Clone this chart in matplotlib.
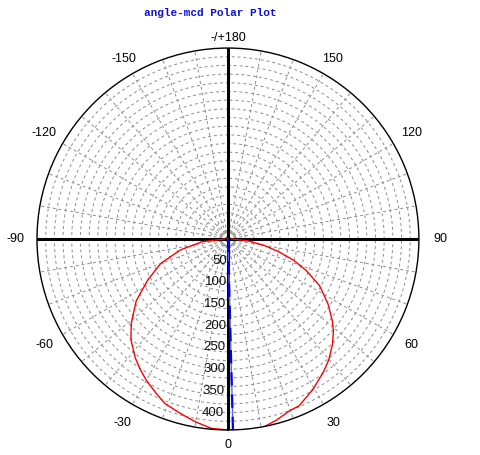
import matplotlib
matplotlib.use('Agg')
import matplotlib.pyplot as plt
import numpy as np

# red curve (angle in degrees, 0 = bottom, positive toward the right)
red_deg = [-90, -84, -77, -70, -63, -56, -49, -44, -38, -34, -30, -25, -21, -15, -10, -5, 0, 5, 10, 15, 20, 23, 27, 30, 36, 40, 45, 49, 52, 57, 63, 68, 72, 76, 80, 85, 90]
red_r = [8, 60, 113, 165, 207, 255, 295, 322, 347, 362, 376, 392, 406, 417, 428, 438, 440, 441, 443, 432, 420, 418, 405, 396, 376, 362, 341, 322, 305, 275, 237, 195, 160, 120, 85, 45, 8]

# blue line
blue_deg = [0.2, 1.5]
blue_r = [0, 440]

rmax = 440
ring_step = 20
spoke_step = 10
ang_labels = [0, 30, 60, 90, 120, 150, 180, -150, -120, -90, -60, -30]
ang_text = ['0', '30', '60', '90', '120', '150', '-/+180', '-150', '-120', '-90', '-60', '-30']
rad_labels = [50, 100, 150, 200, 250, 300, 350, 400]

fig = plt.figure(figsize=(4.81, 4.55), dpi=100)
ax = fig.add_axes([0.0769, 0.0549, 0.794, 0.8396], projection='polar')
ax.set_theta_zero_location('S')
ax.set_theta_direction(1)
ax.set_ylim(0, rmax)
ax.grid(False)
ax.set_xticks([])
ax.set_yticks([])
ax.spines['polar'].set_linewidth(1.0)
ax.spines['polar'].set_color('black')

# dashed grid
tt = np.linspace(0, 2 * np.pi, 400)
for r in range(ring_step, rmax, ring_step):
    ax.plot(tt, np.full_like(tt, r), color='#8c8c8c', lw=0.7, ls=(0, (3, 3)))
for a in range(0, 360, spoke_step):
    ax.plot([np.radians(a), np.radians(a)], [0, rmax], color='#8c8c8c', lw=0.7, ls=(0, (3, 3)))

# black axes through centre
for a in [0, 90, 180, 270]:
    ax.plot([np.radians(a), np.radians(a)], [0, rmax], color='black', lw=2.2)

ax.plot(np.radians(red_deg), red_r, color='red', lw=1.0)
ax.plot(np.radians(blue_deg), blue_r, color='#6060ff', lw=1.0)
ax.plot(np.radians(blue_deg), blue_r, color='blue', lw=1.6, ls=(0, (6, 4)))

for a, s in zip(ang_labels, ang_text):
    if a == 180:
        dist = 1.055
    elif a == 0:
        dist = 1.08
    elif abs(a) == 150:
        dist = 1.09
    else:
        dist = 1.11
    ax.text(np.radians(a), rmax * dist, s, ha='center', va='center', fontsize=9,
            family='Liberation Sans', clip_on=False)

for r in rad_labels:
    ax.text(np.radians(-1.2), r, str(r), ha='right', va='center', fontsize=9.5,
            family='Liberation Sans', color='#101010')

fig.text(0.437, 0.972, 'angle-mcd Polar Plot', ha='center', va='center', fontsize=8,
         family='Liberation Mono', weight='bold', color='#1010e0')

fig.savefig('out.png', dpi=100)
